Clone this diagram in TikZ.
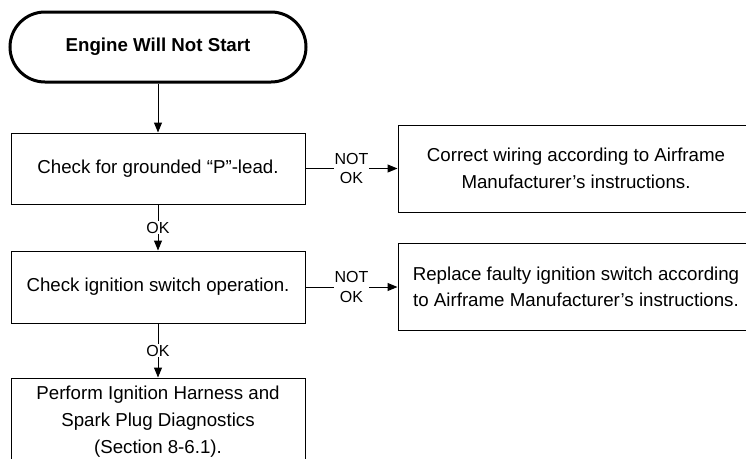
\documentclass[tikz,border=0pt]{standalone}
\usepackage{fontspec}
\setmainfont{Liberation Sans}
\usetikzlibrary{arrows.meta, positioning}

\begin{document}
\begin{tikzpicture}[
        x=1pt, y=1pt,
        font=\fontsize{18.7}{26.5}\selectfont,
        box/.style={rectangle, draw, line width=1pt, minimum width=294pt, minimum height=71pt, align=center, inner sep=0pt},
        widebox/.style={box, minimum width=356pt, minimum height=87pt},
        startbox/.style={rectangle, draw, line width=3pt, rounded corners=35pt, minimum width=296pt, minimum height=70pt, font=\fontsize{18.7}{22}\selectfont\bfseries},
        lbl/.style={fill=white, inner sep=1pt, align=center, font=\fontsize{16}{19.5}\selectfont},
        arrow/.style={-{Triangle[length=10pt, width=8pt]}, line width=1pt}
    ]
        \useasboundingbox (0,0) rectangle (746,-458);
        \node[startbox] (start) at (158,-47) {Engine Will Not Start};
        \node[box, below=49pt of start] (plead) {Check for grounded “P”-lead.};
        \node[box, minimum height=72pt, below=46pt of plead] (ignsw) {Check ignition switch operation.};
        \node[box, minimum height=88pt, below=54pt of ignsw, font=\fontsize{18.7}{27}\selectfont] (diag) {Perform Ignition Harness and\\Spark Plug Diagnostics\\(Section 8-6.1).};
        \node[widebox, right=92pt of plead] (wiring) {Correct wiring according to Airframe\\Manufacturer’s instructions.};
        \node[widebox, right=92pt of ignsw] (replace) {Replace faulty ignition switch according\\to Airframe Manufacturer’s instructions.};

        \draw[arrow] (start) -- (plead);
        \draw[arrow] (plead) -- node[lbl] {NOT\\OK} (wiring);
        \draw[arrow] (plead) -- node[lbl] {OK} (ignsw);
        \draw[arrow] (ignsw) -- node[lbl] {NOT\\OK} (replace);
        \draw[arrow] (ignsw) -- node[lbl] {OK} (diag);
    \end{tikzpicture}
\end{document}
